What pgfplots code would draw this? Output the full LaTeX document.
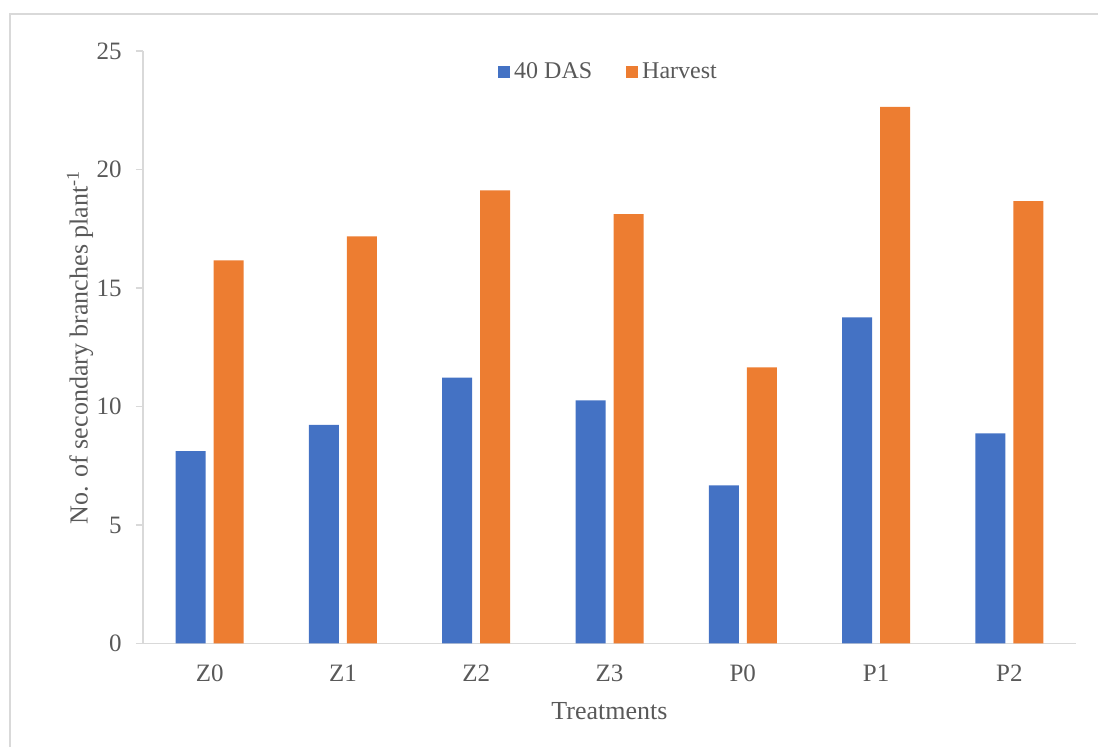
\documentclass[border=0pt]{standalone}
\usepackage{pgfplots}
\pgfplotsset{compat=1.18}
\usepackage{fontspec}
\setmainfont{Liberation Serif}
\definecolor{cblue}{HTML}{4472C4}
\definecolor{corange}{HTML}{ED7D31}
\definecolor{axgray}{HTML}{D9D9D9}
\definecolor{txt}{HTML}{595959}

\begin{document}
\begin{tikzpicture}
\begin{axis}[
  scale only axis, width=466.5pt, height=296.25pt,
  ybar=4pt, bar width=15pt,
  xmin=-0.5, xmax=6.5, ymin=0, ymax=25,
  xtick=data, xticklabels={Z0,Z1,Z2,Z3,P0,P1,P2},
  ytick={0,5,...,25},
  axis x line=bottom, axis y line=left,
  axis line style={draw=axgray, line width=0.7pt, -},
  x tick style={draw=none},
  y tick style={draw=axgray, line width=0.7pt},
  tick align=outside, major tick length=3.5pt,
  /pgf/number format/assume math mode=true,
  tick label style={font=\fontsize{12.5}{14}\selectfont, text=txt},
  yticklabel style={anchor=east, inner sep=0pt, xshift=-7pt},
  xticklabel style={anchor=center, yshift=-11.5pt},
  label style={font=\fontsize{13}{15}\selectfont, text=txt},
  xlabel={Treatments},
  ylabel={No. of secondary branches plant\textsuperscript{-1}},
  xlabel style={at={(axis description cs:0.5,0)}, anchor=center, yshift=-33.75pt},
  ylabel style={at={(axis description cs:0,0.5)}, anchor=center, yshift=31.5pt},
  legend style={at={(axis description cs:0.5,1)}, anchor=north, yshift=-1.5pt,
    draw=none, fill=none, legend columns=2, font=\fontsize{12}{14}\selectfont, text=txt,
    /tikz/every even column/.append style={column sep=15pt}},
]
\addplot[fill=cblue, draw=none,
  legend image code/.code={\fill[cblue] (0pt,-3pt) rectangle (6pt,3pt);}]
  coordinates {(0,8.12) (1,9.22) (2,11.22) (3,10.26) (4,6.67) (5,13.76) (6,8.87)};
\addlegendentry{40 DAS}
\addplot[fill=corange, draw=none,
  legend image code/.code={\fill[corange] (0pt,-3pt) rectangle (6pt,3pt);}]
  coordinates {(0,16.17) (1,17.18) (2,19.12) (3,18.12) (4,11.65) (5,22.64) (6,18.66)};
\addlegendentry{Harvest}
\end{axis}
\draw[axgray, line width=0.75pt] (-66.5pt,-60pt) -- (-66.5pt,314.75pt) -- (490pt,314.75pt);
\pgfresetboundingbox
\useasboundingbox (-71.5pt,-51.75pt) rectangle (477.5pt,321.75pt);
\end{tikzpicture}
\end{document}
